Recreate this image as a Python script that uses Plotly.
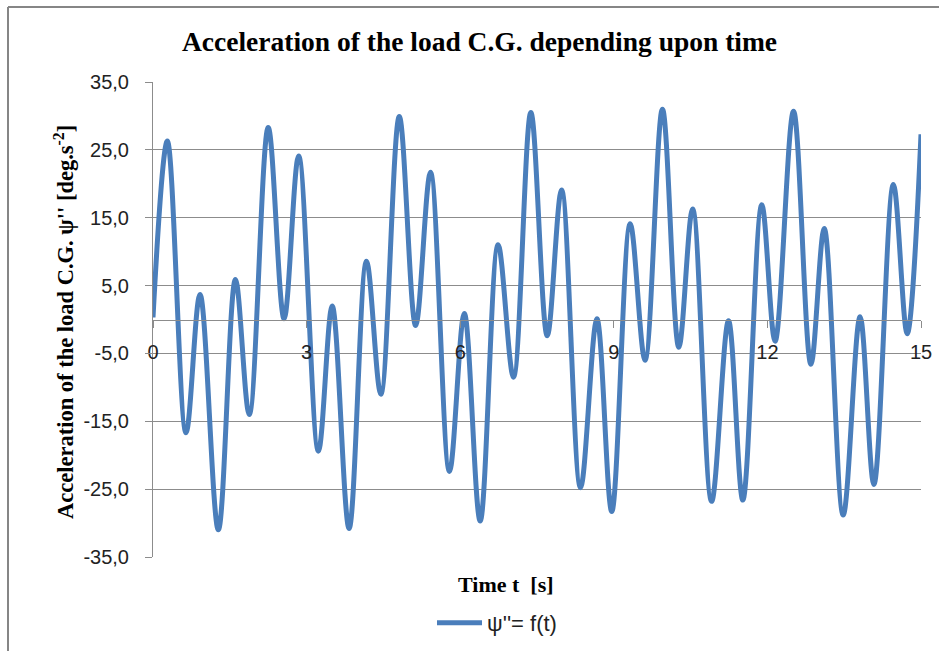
import plotly.graph_objects as go

# Extrema of the curve (time in s, acceleration in deg/s^2)
time_s = [0.0, 0.28, 0.645, 0.918, 1.276, 1.61, 1.88, 2.25, 2.56, 2.845, 3.23, 3.50,
          3.83, 4.17, 4.45, 4.81, 5.13, 5.42, 5.79, 6.08, 6.39, 6.74, 7.04, 7.38,
          7.70, 7.98, 8.35, 8.67, 8.96, 9.32, 9.61, 9.95, 10.27, 10.54, 10.91, 11.24,
          11.52, 11.89, 12.15, 12.51, 12.85, 13.11, 13.48, 13.81, 14.08, 14.46, 14.73, 15.0]
accel = [0.3, 26.3, -16.7, 3.7, -31.0, 5.9, -14.0, 28.3, 0.1, 24.1, -19.4, 2.0,
         -30.8, 8.6, -11.0, 29.9, -0.9, 21.7, -22.4, 0.9, -29.7, 11.0, -8.5, 30.5,
         -2.4, 19.1, -24.8, 0.1, -28.3, 14.1, -6.0, 31.0, -4.1, 16.3, -26.8, -0.2,
         -26.6, 16.9, -3.2, 30.7, -6.6, 13.4, -28.8, 0.4, -24.3, 19.9, -2.1, 27.3]

x_ticks = [0, 3, 6, 9, 12, 15]
y_ticks = [-35, -25, -15, -5, 5, 15, 25, 35]
y_tick_labels = ["-35,0", "-25,0", "-15,0", "-5,0", "5,0", "15,0", "25,0", "35,0"]

title_text = "<b>Acceleration of the load C.G. depending upon time</b>"
x_title = "<b>Time t  [s]</b>"
y_title = "<b>Acceleration of the load C.G. ψ'' [deg.s<sup>-2</sup>]</b>"
series_name = "ψ''= f(t)"

W, H = 939, 651
ML, MR, MT, MB = 153, 18, 82, 94
PW, PH = W - ML - MR, H - MT - MB


def px(xp):
    return (xp - ML) / PW


def py(yp):
    return (H - MB - yp) / PH


fig = go.Figure()
fig.add_trace(go.Scatter(
    x=time_s, y=accel, mode="lines", name=series_name,
    line=dict(color="#4a7ebb", width=5, shape="spline", smoothing=1.0),
))

grid_col = "#8c8c8c"
sans = "Liberation Sans, Arial, sans-serif"
serif = "Liberation Serif, Times New Roman, serif"
fig.update_layout(
    width=W, height=H,
    margin=dict(l=ML, r=MR, t=MT, b=MB, autoexpand=False),
    paper_bgcolor="white", plot_bgcolor="white",
    showlegend=True,
    legend=dict(orientation="h", x=px(432), xanchor="left", y=py(623), yanchor="middle",
                itemwidth=45,
                font=dict(family=sans, size=22, color="#222"),
                bgcolor="rgba(0,0,0,0)"),
    xaxis=dict(range=[0, 15], tickvals=x_ticks, showgrid=False, zeroline=False,
               showline=True, linecolor=grid_col, linewidth=1,
               anchor="free", position=0.5, automargin=False,
               ticks="outside", ticklen=7, tickcolor=grid_col,
               ticklabelstandoff=7,
               tickfont=dict(family=sans, size=20, color="#222")),
    yaxis=dict(range=[-35, 35], tickvals=y_ticks, ticktext=y_tick_labels,
               showgrid=True, gridcolor=grid_col, gridwidth=1, zeroline=False,
               showline=True, linecolor=grid_col, linewidth=1, automargin=False,
               ticks="outside", ticklen=7, tickcolor=grid_col,
               ticklabelstandoff=12,
               tickfont=dict(family=sans, size=20, color="#222")),
    annotations=[
        dict(text=title_text, x=px(479), y=py(42), xref="paper", yref="paper",
             showarrow=False, xanchor="center", yanchor="middle",
             font=dict(family=serif, size=27.5, color="black")),
        dict(text=x_title, x=px(506), y=py(584), xref="paper", yref="paper",
             showarrow=False, xanchor="center", yanchor="middle",
             font=dict(family=serif, size=22, color="black")),
        dict(text=y_title, x=px(64), y=py(322), xref="paper", yref="paper",
             showarrow=False, xanchor="center", yanchor="middle", textangle=-90,
             font=dict(family=serif, size=22.5, color="black")),
    ],
    shapes=[
        dict(type="line", xref="paper", yref="paper", x0=px(8), y0=py(651), x1=px(8), y1=py(7),
             line=dict(color="#868686", width=2)),
        dict(type="line", xref="paper", yref="paper", x0=px(8), y0=py(7), x1=px(939), y1=py(7),
             line=dict(color="#868686", width=2)),
    ],
)

fig.write_html("out.html")
